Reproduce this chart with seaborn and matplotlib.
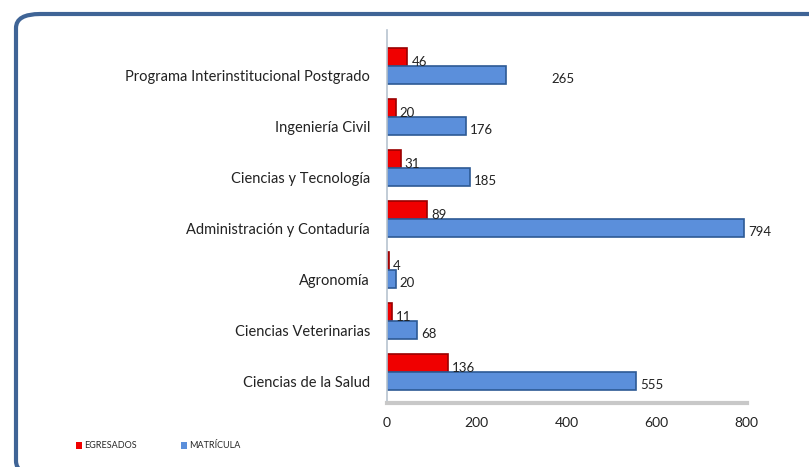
import numpy as np
import pandas as pd
import matplotlib
matplotlib.use("Agg")
import matplotlib.pyplot as plt
from matplotlib.patches import FancyBboxPatch, Patch
import seaborn as sns

# data, top to bottom
categorias = [
    "Programa Interinstitucional Postgrado",
    "Ingeniería Civil",
    "Ciencias y Tecnología",
    "Administración y Contaduría",
    "Agronomía",
    "Ciencias Veterinarias",
    "Ciencias de la Salud",
]
egresados = [46, 20, 31, 89, 4, 11, 136]
matricula = [265, 176, 185, 794, 20, 68, 555]
series = ["EGRESADOS", "MATRÍCULA"]
xticks = [0, 200, 400, 600, 800]

colores = {"EGRESADOS": "#F00000", "MATRÍCULA": "#5B8FDB"}
bordes = {"EGRESADOS": "#9A0000", "MATRÍCULA": "#2D5A95"}

df = pd.DataFrame({
    "categoria": categorias * 2,
    "serie": [series[0]] * len(categorias) + [series[1]] * len(categorias),
    "valor": egresados + matricula,
})

sns.set_theme(style="white")
plt.rcParams["font.family"] = ["Lato", "DejaVu Sans"]

fig = plt.figure(figsize=(8.09, 4.67), dpi=100)
ax = fig.add_axes([0.478, 0.137, 0.445, 0.799])

sns.barplot(data=df, y="categoria", x="valor", hue="serie", order=categorias,
            hue_order=series, palette=colores, orient="h", width=0.72,
            saturation=1, ax=ax, legend=False)

for cont, s in zip(ax.containers, series):
    for bar in cont:
        bar.set_edgecolor(bordes[s])
        bar.set_linewidth(1.2)

# value labels
extra = {("MATRÍCULA", 0): 30}
for cont, s in zip(ax.containers, series):
    for i, bar in enumerate(cont):
        w = bar.get_width()
        yc = bar.get_y() + bar.get_height() / 2
        dx = 3 + extra.get((s, i), 0)
        ax.annotate(f"{int(w)}", (w, yc), xytext=(dx, -4 if s == series[0] else -3),
                    textcoords="offset points", ha="left", va="center",
                    fontsize=9.5, color="#222222", annotation_clip=False)

ax.set_xlim(0, 800)
ax.set_ylim(6.61, -0.706)
ax.set_xticks(xticks)
ax.set_xticklabels([str(t) for t in xticks], fontsize=10, color="#222222")
ax.set_yticks(np.arange(len(categorias)) + 0.18)
ax.set_yticklabels(categorias, fontsize=10.5, color="#222222")
ax.tick_params(axis="y", length=0, pad=12)
ax.tick_params(axis="x", length=0, pad=10)
ax.set_xlabel("")
ax.set_ylabel("")

for side in ["top", "right"]:
    ax.spines[side].set_visible(False)
ax.spines["left"].set_color("#B8C4D0")
ax.spines["left"].set_linewidth(1.2)
ax.spines["bottom"].set_color("#C8C8C8")
ax.spines["bottom"].set_linewidth(3)

# legend
handles = [Patch(facecolor=colores[s], edgecolor="none", label=s) for s in series]
fig.legend(handles=handles, loc="center left", bbox_to_anchor=(0.089, 0.045),
           ncol=2, frameon=False, fontsize=6.5, handlelength=0.7, handleheight=0.8,
           handletextpad=0.2, columnspacing=4.9, borderaxespad=0)

# rounded frame around chart area
frame = FancyBboxPatch((16 / 809, -8 / 467), 820 / 809, 461 / 467,
                       boxstyle="round,pad=0,rounding_size=0.03",
                       transform=fig.transFigure, fill=False,
                       edgecolor="#3F6496", linewidth=3, clip_on=False)
fig.patches.append(frame)

fig.savefig("out.png", dpi=100)
